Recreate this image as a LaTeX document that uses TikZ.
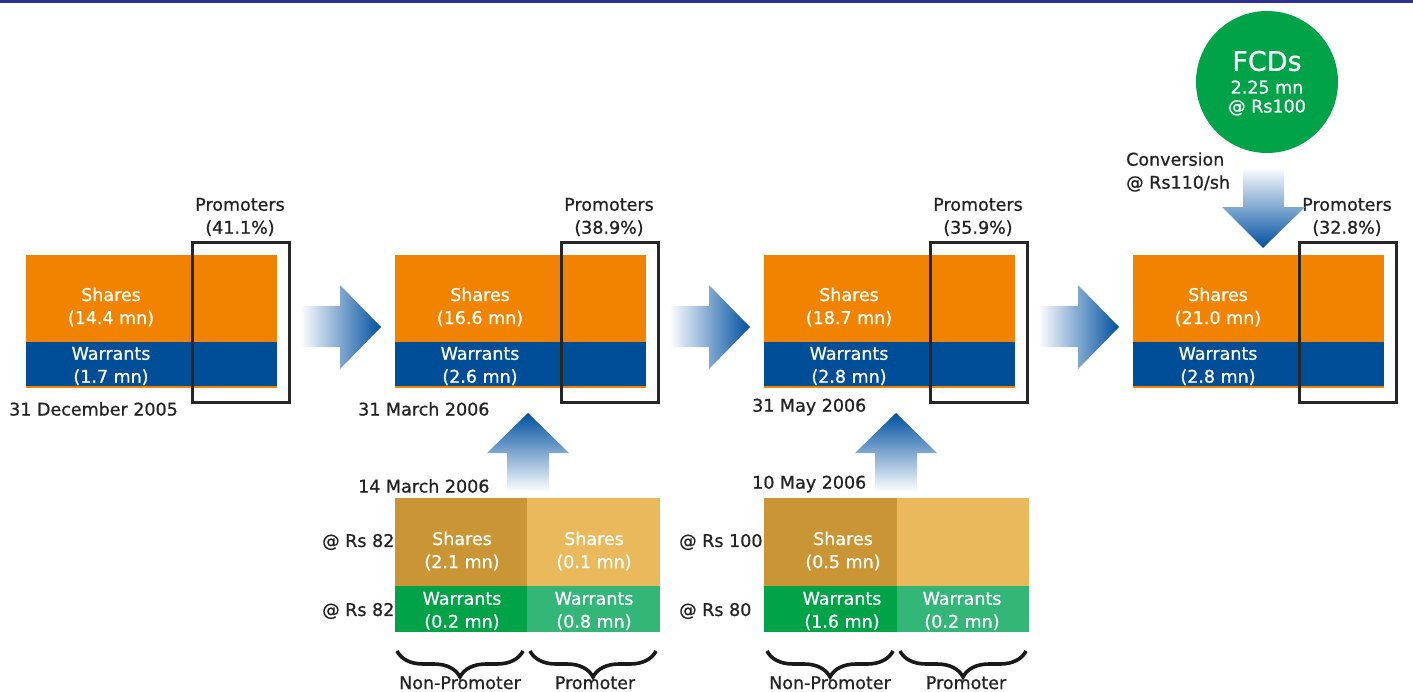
\documentclass[tikz,border=0pt]{standalone}
\usepackage{fontspec}
\setmainfont{DejaVu Sans}[FakeBold=0.8]
\usetikzlibrary{decorations.pathreplacing}
\definecolor{cOrange}{RGB}{241,131,0}
\definecolor{cBlue}{RGB}{0,78,152}
\definecolor{cArrow}{RGB}{0,80,160}
\definecolor{cTop}{RGB}{46,49,146}
\definecolor{cGoldD}{RGB}{201,149,53}
\definecolor{cGoldL}{RGB}{233,185,92}
\definecolor{cGreenD}{RGB}{0,163,71}
\definecolor{cGreenL}{RGB}{51,182,119}
\definecolor{cText}{RGB}{35,35,35}
\tikzset{
  blk/.style={draw=none, inner sep=0, outer sep=0, anchor=north west},
  wtext/.style={text=white, font=\fontsize{17.5}{23}\selectfont, align=center, inner sep=0},
  dtext/.style={text=cText, font=\fontsize{17.5}{23}\selectfont, align=center, inner sep=0},
  btext/.style={text=cText, font=\fontsize{17.5}{23}\selectfont, inner sep=0, anchor=base},
  promobox/.style={draw=black!85, line width=3, inner sep=0, anchor=north west, fill=none},
  bracestyle/.style={decorate, decoration={brace, amplitude=26, mirror}, line width=3.6, draw=black!90},
}
\begin{document}
\begin{tikzpicture}[x=1pt,y=-1pt]
\useasboundingbox (0,0) rectangle (1413,691);
\fill[cTop] (0,0) rectangle (1413,2.5);

% ---------- main blocks ----------
\foreach \i/\xo/\sh/\wa/\pr in {1/26/14.4/1.7/41.1, 2/395/16.6/2.6/38.9, 3/764/18.7/2.8/35.9, 4/1133/21.0/2.8/32.8}{
  \node[blk, fill=cOrange, minimum width=251, minimum height=133] (sh\i) at (\xo,255) {};
  \node[blk, fill=cBlue, minimum width=251, minimum height=44] (wa\i) at (\xo,342) {};
  \node[promobox, minimum width=97, minimum height=160] (pb\i) at (\xo+164.5,240.5) {};
  \node[wtext] (sht\i) at (\xo+85,307) {Shares\\(\sh\ mn)};
  \node[wtext] (wat\i) at (\xo+85,366) {Warrants\\(\wa\ mn)};
  \node[dtext] (prt\i) at (\xo+214,217) {Promoters\\(\pr\%)};
}

\node[dtext, anchor=west] (d1) at (9,409) {31 December 2005};
\node[dtext, anchor=west] (d2) at (358,409) {31 March 2006};
\node[dtext, anchor=west] (d3) at (752,407) {31 May 2006};

% ---------- right arrows ----------
\foreach \xo in {26,395,764}{
  \shade[left color=white, right color=cArrow]
    (\xo+274,306) -- (\xo+314,306) -- (\xo+314,285) -- (\xo+355,327)
    -- (\xo+314,369) -- (\xo+314,347) -- (\xo+274,347) -- cycle;
}

% ---------- lower blocks ----------
\node[blk, fill=cGoldD, minimum width=132, minimum height=88] (ls1) at (395,498) {};
\node[blk, fill=cGoldL, minimum width=133, minimum height=88] (lp1) at (527,498) {};
\node[blk, fill=cGreenD, minimum width=132, minimum height=46] (lw1) at (395,586) {};
\node[blk, fill=cGreenL, minimum width=133, minimum height=46] (lq1) at (527,586) {};
\node[wtext] at (462,551) {Shares\\(2.1 mn)};
\node[wtext] at (594,551) {Shares\\(0.1 mn)};
\node[wtext] at (462,611) {Warrants\\(0.2 mn)};
\node[wtext] at (594,611) {Warrants\\(0.8 mn)};

\node[blk, fill=cGoldD, minimum width=133, minimum height=88] (ls2) at (764,498) {};
\node[blk, fill=cGoldL, minimum width=132, minimum height=88] (lp2) at (897,498) {};
\node[blk, fill=cGreenD, minimum width=133, minimum height=46] (lw2) at (764,586) {};
\node[blk, fill=cGreenL, minimum width=132, minimum height=46] (lq2) at (897,586) {};
\node[wtext] at (843,551) {Shares\\(0.5 mn)};
\node[wtext] at (842,611) {Warrants\\(1.6 mn)};
\node[wtext] at (962,611) {Warrants\\(0.2 mn)};

\node[dtext, anchor=west] at (358,486) {14 March 2006};
\node[dtext, anchor=west] at (752,484) {10 May 2006};
\node[dtext, anchor=west] at (322,542) {@ Rs 82};
\node[dtext, anchor=west] at (322,611) {@ Rs 82};
\node[dtext, anchor=west] at (679,542) {@ Rs 100};
\node[dtext, anchor=west] at (679,611) {@ Rs 80};

% ---------- up arrows ----------
\foreach \cx in {528,896}{
  \shade[bottom color=white, top color=cArrow]
    (\cx-21,492) -- (\cx-21,453) -- (\cx-41,453) -- (\cx,413)
    -- (\cx+41,453) -- (\cx+21,453) -- (\cx+21,492) -- cycle;
}

% ---------- braces ----------
\draw[bracestyle] (397,651) -- (523,651);
\draw[bracestyle] (530,651) -- (656,651);
\draw[bracestyle] (767,651) -- (893,651);
\draw[bracestyle] (900,651) -- (1026,651);
\node[btext] at (460,689) {Non-Promoter};
\node[btext] at (595,689) {Promoter};
\node[btext] at (830,689) {Non-Promoter};
\node[btext] at (966,689) {Promoter};

% ---------- FCDs ----------
\node[circle, fill=cGreenD, minimum size=142, inner sep=0] (fcd) at (1267,82) {};
\node[wtext, font=\fontsize{27}{30}\selectfont] at (1267,61) {FCDs};
\node[wtext] at (1267,98) {2.25 mn\\[-4pt]@ Rs100};
\node[dtext, align=left, anchor=west] at (1126,172) {Conversion\\@ Rs110/sh};
\shade[top color=white, bottom color=cArrow]
  (1243,167) -- (1284,167) -- (1284,207) -- (1305,207) -- (1263,248)
  -- (1222,207) -- (1243,207) -- cycle;
\end{tikzpicture}
\end{document}
